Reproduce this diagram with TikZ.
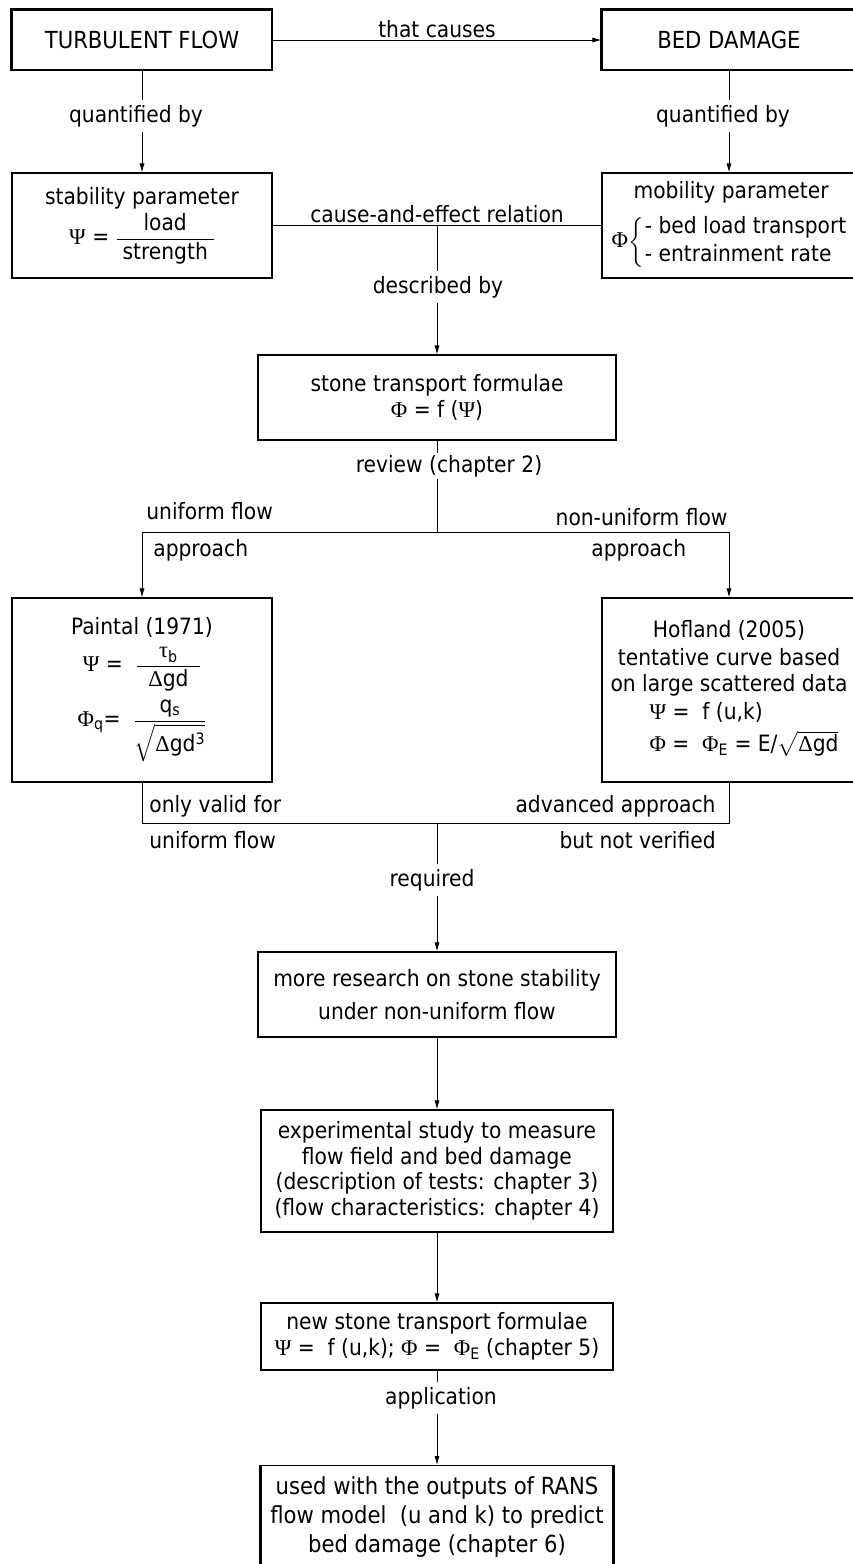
\documentclass[tikz,border=0pt]{standalone}
\usepackage{amsmath}
\usepackage{fontspec}
\setmainfont{DejaVu Sans Condensed}
\newfontfamily\greekfont{Liberation Serif}
\newcommand{\gk}[1]{{\greekfont #1}}
\usetikzlibrary{arrows,arrows.meta,positioning}
\tikzset{
  basic/.style  = {draw, rectangle, line width=1.1pt, align=center, inner sep=2pt,
                   font=\fontsize{22.5}{25.5}\selectfont},
  head/.style   = {basic, minimum width=260pt, minimum height=60pt,
                   font=\fontsize{23.5}{26}\selectfont},
  param/.style  = {basic, minimum width=260pt, minimum height=105pt},
  stage/.style  = {basic, minimum width=352pt},
  word/.style   = {inner sep=5pt, font=\fontsize{22.5}{25.5}\selectfont}
}

\begin{document}
\begin{tikzpicture}[x=1pt, y=-1pt, line width=0.8pt,
  >={Latex[length=9pt,width=5pt]}]
\useasboundingbox (0,0) rectangle (853,1564);

% cause and effect, first row
\node[head] (tf) at (142,40) {TURBULENT FLOW};
\node[head, minimum width=254pt] (bd) at (729,40) {BED DAMAGE};
\draw[line width=2.4pt] (tf.south west) -- (tf.north west) -- (tf.north east);
\draw[line width=2.4pt] (bd.south west) -- (bd.north west) -- (bd.north east);
\draw[->] (tf) -- node[word, above=-3pt] (lcause) {that causes} (bd);

% quantified by, second row
\node[word] (lq1) at (136,116) {quantified by};
\node[word] (lq2) at (723,116) {quantified by};
\node[param] (sp) at (142,225.5) {stability parameter\\[3pt]
  \gk{Ψ} = $\dfrac{\text{load}}{\;\text{strength}\;}$};
\node[param, minimum width=254pt, align=left, inner xsep=3pt] (mp) at (729,225.5)
  {\hspace*{22pt}mobility parameter\\[11pt]
  \gk{Φ}$\left\{\rule[-17pt]{0pt}{38pt}\right.$\begin{tabular}{@{}l@{}}- bed load transport\\[3pt]
  - entrainment rate\end{tabular}};
\draw (tf.south) -- (tf.south |- lq1.north);
\draw[->] (tf.south |- lq1.south) -- (sp);
\draw (bd.south) -- (bd.south |- lq2.north);
\draw[->] (bd.south |- lq2.south) -- (mp);
\draw (sp) -- coordinate[midway] (rel)
  node[word, above=-3pt] (lrel) {cause-and-effect relation} (mp);

% described by
\node[word] (ldesc) at (438,287) {described by};
\node[stage, minimum width=358pt, minimum height=85pt] (st) at (437,397.5)
  {stone transport formulae\\ \gk{Φ} = f (\gk{Ψ})};
\draw (rel) -- (rel |- ldesc.north);
\draw[->] (rel |- ldesc.south) -- (st);

% review, two approaches
\node[word, inner ysep=2pt] (lrev) at (449,466) {review (chapter 2)};
\coordinate (split) at (437,532);
\draw (st.south) -- (st.south |- lrev.north);
\draw (st.south |- lrev.south) -- (split);
\node[word, anchor=west] (luni) at (141,511) {uniform flow};
\node[word, anchor=west] (luap) at (148,550) {approach};
\node[word, anchor=east] (lnon) at (733,517) {non-uniform flow};
\node[word, anchor=west] (lnap) at (586,550) {approach};

\node[basic, minimum width=260pt, minimum height=184pt] (pa) at (142,690)
  {Paintal (1971)\\[8pt]
  \gk{Ψ} = \ $\dfrac{\text{\gk{τ}\textsubscript{b}}}{\;\;\text{\gk{Δ}gd}\;\;}$\\[8pt]
  \gk{Φ}\textsubscript{q}= \ $\dfrac{\text{q\textsubscript{s}}}{\sqrt{\text{\gk{Δ}gd\textsuperscript{3}}}}$};
\node[basic, minimum width=254pt, minimum height=184pt, inner xsep=3pt] (ho) at (729,690)
  {Hofland (2005)\\[2pt] tentative curve based\\[1pt] on large scattered data\\[4pt]
  \hspace*{30pt}\begin{tabular}{@{}l@{}}\gk{Ψ} = \ f (u,k)\\[4pt]
  \gk{Φ} = \ \gk{Φ}\textsubscript{E} = E/$\sqrt{\text{\gk{Δ}gd}}$\end{tabular}};
\draw[->] (split) -| (pa);
\draw[->] (split) -| (ho);

% both approaches lead to further research
\coordinate (merge) at (437,823);
\draw (pa) |- (merge) -| (ho);
\node[word, anchor=west] (lonly) at (144,806) {only valid for};
\node[word, anchor=west] (lunif) at (144,840) {uniform flow};
\node[word, anchor=east] (ladv) at (721,806) {advanced approach};
\node[word, anchor=east] (lbut) at (721,840) {but not verified};
\node[word] (lreq) at (432,880) {required};

\node[stage, minimum width=358pt, minimum height=85pt] (rs) at (437,994.5)
  {more research on stone stability\\[7pt] under non-uniform flow};
\node[stage, minimum height=122pt] (ex) at (437,1171)
  {experimental study to measure\\ flow field and bed damage\\
  (description of tests: chapter 3)\\ (flow characteristics: chapter 4)};
\node[stage, minimum height=67pt] (nf) at (437,1336.5)
  {new stone transport formulae\\
  \gk{Ψ} = \ f (u,k); \gk{Φ} = \ \gk{Φ}\textsubscript{E} (chapter 5)};
\node[word] (lapp) at (441,1398) {application};
\node[stage, minimum height=160pt, anchor=north] (us) at (437,1465) {};
\node[align=center, font=\fontsize{23.5}{29}\selectfont] (ustext) at (437,1517)
  {used with the outputs of RANS\\ flow model\ \ (u and k) to predict\\
  bed damage (chapter 6)};
\draw[line width=2.4pt] (us.north west) -- (us.south west)
  (us.north east) -- (us.south east);

\draw (merge) -- (merge |- lreq.north);
\draw[->] (merge |- lreq.south) -- (rs);
\draw[->] (rs) -- (ex);
\draw[->] (ex) -- (nf);
\draw (nf.south) -- (nf.south |- lapp.north);
\draw[->] (nf.south |- lapp.south) -- (us);

\end{tikzpicture}
\end{document}
